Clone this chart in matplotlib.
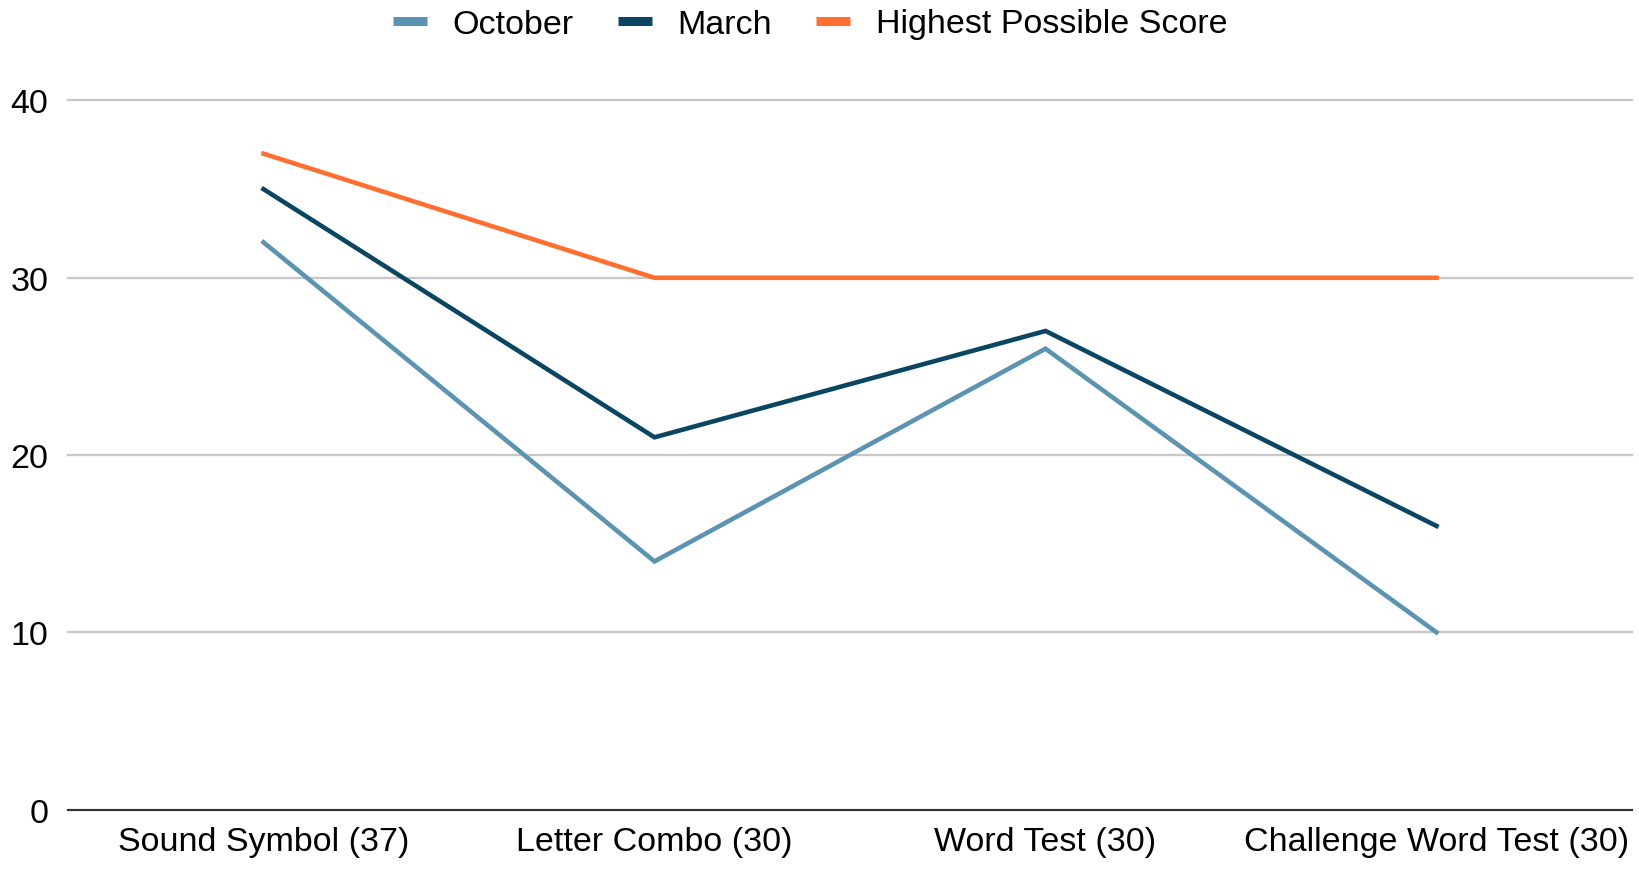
import matplotlib.pyplot as plt

categories = ["Sound Symbol (37)", "Letter Combo (30)", "Word Test (30)", "Challenge Word Test (30)"]
october = [32, 14, 26, 10]
march = [35, 21, 27, 16]
highest = [37, 30, 30, 30]

plt.rcParams['font.family'] = ['Liberation Sans', 'DejaVu Sans']

fig = plt.figure(figsize=(16.4, 8.7), dpi=100)
ax = fig.add_axes([68 / 1640, 1 - 810.6 / 870, (1632 - 68) / 1640, (810.6 - 101.5) / 870])

x = range(len(categories))
ax.plot(x, october, color='#5b93b1', lw=3.3, label='October', solid_joinstyle='miter')
ax.plot(x, march, color='#0a4661', lw=3.3, label='March', solid_joinstyle='miter')
ax.plot(x, highest, color='#ff6f31', lw=3.3, label='Highest Possible Score', solid_joinstyle='miter')

ax.set_xlim(-0.5, 3.5)
ax.set_ylim(0, 40)
ax.set_yticks([0, 10, 20, 30, 40])
ax.set_xticks(list(x))
ax.set_xticklabels(categories)
ax.grid(axis='y', color='#c8c8c8', lw=1.7)
for gl in ax.get_ygridlines():
    gl.set_clip_on(False)
ax.set_axisbelow(True)
for s in ['top', 'right', 'left']:
    ax.spines[s].set_visible(False)
ax.spines['bottom'].set_color('#333333')
ax.spines['bottom'].set_linewidth(1.5)
ax.tick_params(axis='both', length=0, labelsize=24.5, colors='#000000')
ax.tick_params(axis='y', pad=14)
ax.tick_params(axis='x', pad=12)

leg = fig.legend(loc='center', bbox_to_anchor=(810 / 1640, 1 - 25 / 870), ncol=3, frameon=False,
                 fontsize=24.5, handlelength=1.0, columnspacing=1.3, handletextpad=0.75)
for h in leg.get_lines():
    h.set_linewidth(6.5)
    h.set_solid_capstyle('butt')

fig.savefig('out.png', dpi=100)
